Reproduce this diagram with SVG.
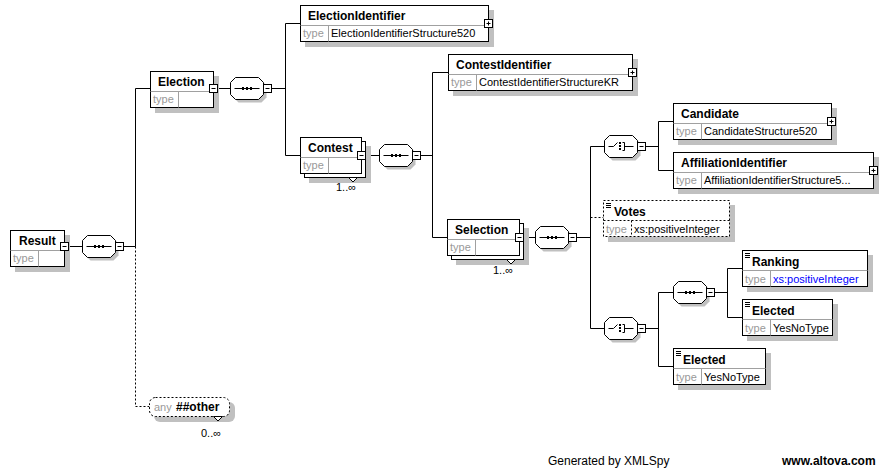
<svg xmlns="http://www.w3.org/2000/svg" xmlns:xlink="http://www.w3.org/1999/xlink" width="889" height="469" viewBox="0 0 889 469">
<style>
.box{fill:#fff;stroke:#000;stroke-width:1}
.dbox{fill:#fff;stroke:#000;stroke-width:1;stroke-dasharray:2,2}
.shd{fill:#c0c0c0}
.dv{stroke:#a0a0a0;stroke-width:1}
.ddv{stroke:#000;stroke-width:1;stroke-dasharray:2,2}
.ln{stroke:#000;stroke-width:1;fill:none}
.dl{stroke:#000;stroke-width:1;fill:none;stroke-dasharray:2,2}
text{font-family:"Liberation Sans",Arial,sans-serif}
.nm{font-size:12px;font-weight:bold;fill:#000}
.ty{font-size:11px;fill:#999}
.tv{font-size:11px;fill:#000}
.bl{fill:#0000ff}
.mu{font-size:11px;fill:#000}
.ft{font-size:12px;fill:#000}
.btn{fill:#fff;stroke:#000;stroke-width:1}
</style>
<defs>
<g id="seq">
<polygon class="shd" points="8,3 31,3 36,8 36,20 31,25 8,25 3,20 3,8"/>
<polygon class="box" points="5,0 28,0 33,5 33,17 28,22 5,22 0,17 0,5"/>
<line class="ln" x1="4" y1="11" x2="29" y2="11"/>
<rect x="11.5" y="9.5" width="2" height="3" fill="#000"/>
<rect x="15.5" y="9.5" width="2" height="3" fill="#000"/>
<rect x="19.5" y="9.5" width="2" height="3" fill="#000"/>
</g>
<g id="cho">
<polygon class="shd" points="8,3 31,3 36,8 36,20 31,25 8,25 3,20 3,8"/>
<polygon class="box" points="5,0 28,0 33,5 33,17 28,22 5,22 0,17 0,5"/>
<path class="ln" d="M4,11 H9 L13,7"/>
<rect x="14.5" y="6.5" width="2" height="2" fill="#000"/>
<rect x="14.5" y="9.5" width="2" height="2" fill="#000"/>
<rect x="14.5" y="12.5" width="2" height="2" fill="#000"/>
<path class="ln" d="M18,7 H20 V15 H18 M20,11 H29"/>
</g>
<g id="mn"><rect class="btn" x="0" y="0" width="8" height="8"/><line class="ln" x1="2" y1="4" x2="6" y2="4"/></g>
<g id="pl"><rect class="btn" x="0" y="0" width="8" height="8"/><path class="ln" d="M2,4 H6 M4,2 V6"/></g>
<path id="ic" class="ln" d="M0,0 H5 M0,2 H5 M0,4 H5"/>
</defs>
<rect x="0" y="0" width="889" height="469" fill="#fff"/>

<g id="connectors">
<path class="ln" d="M68.5,246.5 H82.5 M123.5,246.5 H135.5 M135.5,88.5 V246.5 M135.5,88.5 H150.5"/>
<path class="dl" d="M135.5,246.5 V406.5 H149.5"/>
<path class="ln" d="M217.5,88.5 H230.5 M271.5,88.5 H285.5 M285.5,23.5 V155.5 M285.5,23.5 H300.5 M285.5,155.5 H300.5"/>
<path class="ln" d="M365.5,155.5 H379.5 M420.5,155.5 H432.5 M432.5,72.5 V237.5 M432.5,72.5 H448.5 M432.5,237.5 H447.5"/>
<path class="ln" d="M523.5,237.5 H535.5 M576.5,237.5 H590.5 M590.5,146.5 V328.5 M590.5,146.5 H604.5 M590.5,328.5 H604.5"/>
<path class="dl" d="M590.5,217.5 H603.5"/>
<path class="ln" d="M645.5,146.5 H658.5 M658.5,121.5 V170.5 M658.5,121.5 H673.5 M658.5,170.5 H673.5"/>
<path class="ln" d="M645.5,328.5 H658.5 M658.5,292.5 V366.5 M658.5,292.5 H673.5 M658.5,366.5 H673.5"/>
<path class="ln" d="M714.5,292.5 H727.5 M727.5,268.5 V317.5 M727.5,268.5 H742.5 M727.5,317.5 H742.5"/>
</g>

<g id="Result">
<rect class="shd" x="15" y="235" width="55" height="37"/>
<rect class="box" x="10.5" y="230.5" width="54" height="36"/>
<line class="dv" x1="10.5" y1="250.5" x2="64.5" y2="250.5"/>
<line class="dv" x1="38.5" y1="250.5" x2="38.5" y2="266.5"/>
<text class="nm" x="19" y="245">Result</text>
<text class="ty" x="13" y="262">type</text>
<use xlink:href="#mn" x="60.5" y="242.5"/>
</g>
<g id="seq1"><use xlink:href="#seq" x="82.5" y="235.5"/><use xlink:href="#mn" x="115.5" y="242.5"/></g>

<g id="Election">
<rect class="shd" x="155" y="76" width="64" height="37"/>
<rect class="box" x="150.5" y="71.5" width="63" height="36"/>
<line class="dv" x1="150.5" y1="91.5" x2="213.5" y2="91.5"/>
<line class="dv" x1="178.5" y1="91.5" x2="178.5" y2="107.5"/>
<text class="nm" x="158" y="86">Election</text>
<text class="ty" x="153" y="103">type</text>
<use xlink:href="#mn" x="209.5" y="84.5"/>
</g>
<g id="seq2"><use xlink:href="#seq" x="230.5" y="77.5"/><use xlink:href="#mn" x="263.5" y="84.5"/></g>

<g id="ElectionIdentifier">
<rect class="shd" x="305" y="10" width="189" height="37"/>
<rect class="box" x="300.5" y="5.5" width="188" height="36"/>
<line class="dv" x1="300.5" y1="25.5" x2="488.5" y2="25.5"/>
<line class="dv" x1="328.5" y1="25.5" x2="328.5" y2="41.5"/>
<text class="nm" x="308" y="20">ElectionIdentifier</text>
<text class="ty" x="303" y="37">type</text>
<text class="tv" x="331" y="37">ElectionIdentifierStructure520</text>
<use xlink:href="#pl" x="484.5" y="19.5"/>
</g>

<g id="Contest">
<rect class="shd" x="309" y="146" width="62" height="37"/>
<rect class="box" x="304.5" y="141.5" width="61" height="36"/>
<polygon class="box" points="348.5,177.5 353,182 357.5,177.5"/>
<rect class="box" x="300.5" y="137.5" width="61" height="36"/>
<line class="dv" x1="300.5" y1="157.5" x2="361.5" y2="157.5"/>
<line class="dv" x1="328.5" y1="157.5" x2="328.5" y2="173.5"/>
<text class="nm" x="308" y="152">Contest</text>
<text class="ty" x="303" y="169">type</text>
<text class="mu" x="336" y="191">1..∞</text>
<use xlink:href="#mn" x="357.5" y="151.5"/>
</g>
<g id="seq3"><use xlink:href="#seq" x="379.5" y="144.5"/><use xlink:href="#mn" x="412.5" y="151.5"/></g>

<g id="ContestIdentifier">
<rect class="shd" x="453" y="59" width="185" height="37"/>
<rect class="box" x="448.5" y="54.5" width="184" height="36"/>
<line class="dv" x1="448.5" y1="74.5" x2="632.5" y2="74.5"/>
<line class="dv" x1="476.5" y1="74.5" x2="476.5" y2="90.5"/>
<text class="nm" x="456" y="69">ContestIdentifier</text>
<text class="ty" x="451" y="86">type</text>
<text class="tv" x="479" y="86">ContestIdentifierStructureKR</text>
<use xlink:href="#pl" x="628.5" y="68.5"/>
</g>

<g id="Selection">
<rect class="shd" x="456" y="228" width="73" height="37"/>
<rect class="box" x="451.5" y="223.5" width="72" height="36"/>
<polygon class="box" points="506.5,259.5 511,264 515.5,259.5"/>
<rect class="box" x="447.5" y="219.5" width="72" height="36"/>
<line class="dv" x1="447.5" y1="239.5" x2="519.5" y2="239.5"/>
<line class="dv" x1="475.5" y1="239.5" x2="475.5" y2="255.5"/>
<text class="nm" x="455" y="234">Selection</text>
<text class="ty" x="450" y="251">type</text>
<text class="mu" x="493" y="274">1..∞</text>
<use xlink:href="#mn" x="515.5" y="233.5"/>
</g>
<g id="seq4"><use xlink:href="#seq" x="535.5" y="226.5"/><use xlink:href="#mn" x="568.5" y="233.5"/></g>

<g id="choice1"><use xlink:href="#cho" x="604.5" y="135.5"/><use xlink:href="#mn" x="637.5" y="142.5"/></g>

<g id="Candidate">
<rect class="shd" x="678" y="108" width="159" height="37"/>
<rect class="box" x="673.5" y="103.5" width="158" height="36"/>
<line class="dv" x1="673.5" y1="123.5" x2="831.5" y2="123.5"/>
<line class="dv" x1="701.5" y1="123.5" x2="701.5" y2="139.5"/>
<text class="nm" x="681" y="118">Candidate</text>
<text class="ty" x="676" y="135">type</text>
<text class="tv" x="704" y="135">CandidateStructure520</text>
<use xlink:href="#pl" x="827.5" y="117.5"/>
</g>

<g id="AffiliationIdentifier">
<rect class="shd" x="678" y="157" width="201" height="37"/>
<rect class="box" x="673.5" y="152.5" width="200" height="36"/>
<line class="dv" x1="673.5" y1="172.5" x2="873.5" y2="172.5"/>
<line class="dv" x1="701.5" y1="172.5" x2="701.5" y2="188.5"/>
<text class="nm" x="681" y="167">AffiliationIdentifier</text>
<text class="ty" x="676" y="184">type</text>
<text class="tv" x="704" y="184">AffiliationIdentifierStructure5...</text>
<use xlink:href="#pl" x="869.5" y="166.5"/>
</g>

<g id="Votes">
<rect class="shd" x="608" y="205" width="127" height="37"/>
<rect class="dbox" x="603.5" y="200.5" width="126" height="36"/>
<line class="ddv" x1="603.5" y1="220.5" x2="729.5" y2="220.5"/>
<line class="ddv" x1="631.5" y1="220.5" x2="631.5" y2="236.5"/>
<use xlink:href="#ic" x="606" y="203.5"/>
<text class="nm" x="614" y="216">Votes</text>
<text class="ty" x="606" y="233">type</text>
<text class="tv" x="634" y="233">xs:positiveInteger</text>
</g>

<g id="choice2"><use xlink:href="#cho" x="604.5" y="317.5"/><use xlink:href="#mn" x="637.5" y="324.5"/></g>
<g id="seq5"><use xlink:href="#seq" x="673.5" y="281.5"/><use xlink:href="#mn" x="706.5" y="288.5"/></g>

<g id="Ranking">
<rect class="shd" x="747" y="255" width="126" height="37"/>
<rect class="box" x="742.5" y="250.5" width="125" height="36"/>
<line class="dv" x1="742.5" y1="270.5" x2="867.5" y2="270.5"/>
<line class="dv" x1="770.5" y1="270.5" x2="770.5" y2="286.5"/>
<use xlink:href="#ic" x="745" y="253.5"/>
<text class="nm" x="752" y="266">Ranking</text>
<text class="ty" x="745" y="283">type</text>
<text class="tv bl" x="773" y="283">xs:positiveInteger</text>
</g>

<g id="Elected1">
<rect class="shd" x="747" y="304" width="91" height="37"/>
<rect class="box" x="742.5" y="299.5" width="90" height="36"/>
<line class="dv" x1="742.5" y1="319.5" x2="832.5" y2="319.5"/>
<line class="dv" x1="770.5" y1="319.5" x2="770.5" y2="335.5"/>
<use xlink:href="#ic" x="745" y="302.5"/>
<text class="nm" x="752" y="315">Elected</text>
<text class="ty" x="745" y="332">type</text>
<text class="tv" x="773" y="332">YesNoType</text>
</g>

<g id="Elected2">
<rect class="shd" x="678" y="353" width="93" height="37"/>
<rect class="box" x="673.5" y="348.5" width="92" height="36"/>
<line class="dv" x1="673.5" y1="368.5" x2="765.5" y2="368.5"/>
<line class="dv" x1="701.5" y1="368.5" x2="701.5" y2="384.5"/>
<use xlink:href="#ic" x="676" y="351.5"/>
<text class="nm" x="683" y="364">Elected</text>
<text class="ty" x="676" y="381">type</text>
<text class="tv" x="704" y="381">YesNoType</text>
</g>

<g id="anyOther">
<rect class="shd" x="154" y="402" width="81" height="20" rx="6"/>
<rect class="dbox" x="149.5" y="397.5" width="80" height="19" rx="6"/>
<polygon class="box" points="213.5,416.5 218,421 222.5,416.5"/>
<text class="ty" x="154" y="411">any</text>
<text class="nm" x="176" y="411">##other</text>
<text class="mu" x="201" y="437">0..∞</text>
</g>

<text class="ft" x="548" y="465">Generated by XMLSpy</text>
<text class="ft" x="782" y="465" font-weight="bold">www.altova.com</text>
</svg>
